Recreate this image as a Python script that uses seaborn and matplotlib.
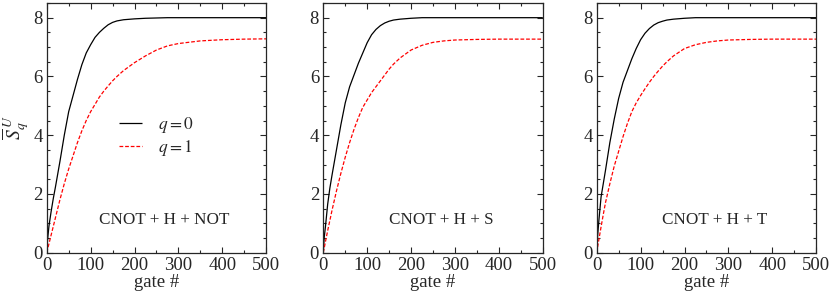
import numpy as np
import pandas as pd
import matplotlib
matplotlib.use('Agg')
import matplotlib.pyplot as plt
import seaborn as sns
from matplotlib.ticker import MultipleLocator

# data
gates = [0, 2, 5, 10, 15, 20, 30, 40, 50, 60, 70, 80, 90, 100, 110, 120, 130, 140,
         150, 160, 175, 200, 225, 250, 275, 300, 350, 400, 450, 500]

not_q0 = [0, 0.45, 0.9, 1.4, 1.85, 2.25, 3.1, 4.0, 4.8, 5.35, 5.9, 6.4, 6.8, 7.08, 7.33,
          7.5, 7.64, 7.76, 7.84, 7.89, 7.93, 7.96, 7.98, 7.99, 8.0, 8.0, 8.0, 8.0, 8.0, 8.0]
not_q1 = [0, 0.12, 0.3, 0.6, 0.9, 1.2, 1.8, 2.35, 2.85, 3.3, 3.75, 4.15, 4.5, 4.8,
          5.05, 5.3, 5.5, 5.68, 5.85, 6.0, 6.2, 6.47, 6.7, 6.9, 7.04, 7.12, 7.21, 7.25,
          7.27, 7.28]

s_q0 = [0, 0.5, 0.9, 1.65, 2.2, 2.65, 3.5, 4.35, 5.1, 5.65, 6.05, 6.45, 6.8, 7.15, 7.42,
        7.6, 7.73, 7.82, 7.88, 7.92, 7.95, 7.98, 8.0, 8.0, 8.0, 8.0, 8.0, 8.0, 8.0, 8.0]
s_q1 = [0, 0.15, 0.38, 0.75, 1.1, 1.45, 2.1, 2.7, 3.25, 3.75, 4.2, 4.6, 4.95, 5.2,
        5.45, 5.65, 5.85, 6.05, 6.25, 6.42, 6.63, 6.9, 7.06, 7.16, 7.21, 7.24, 7.26, 7.27,
        7.27, 7.27]

t_q0 = [0, 0.55, 1.1, 1.9, 2.35, 2.8, 3.75, 4.55, 5.25, 5.8, 6.2, 6.6, 6.95, 7.25, 7.47,
        7.63, 7.75, 7.83, 7.88, 7.92, 7.95, 7.98, 8.0, 8.0, 8.0, 8.0, 8.0, 8.0, 8.0, 8.0]
t_q1 = [0, 0.18, 0.45, 0.88, 1.3, 1.7, 2.35, 2.95, 3.45, 3.95, 4.4, 4.8, 5.1, 5.35,
        5.58, 5.8, 6.0, 6.18, 6.35, 6.5, 6.7, 6.95, 7.08, 7.16, 7.21, 7.24, 7.26, 7.27,
        7.27, 7.27]

panel_titles = ['CNOT + H + NOT', 'CNOT + H + S', 'CNOT + H + T']
panel_data = [(not_q0, not_q1), (s_q0, s_q1), (t_q0, t_q1)]
series_labels = [r'$q = 0$', r'$q = 1$']

sns.set_style('ticks')
plt.rcParams['font.family'] = ['Liberation Serif', 'DejaVu Serif']
plt.rcParams['mathtext.fontset'] = 'stix'

fig = plt.figure(figsize=(8.3, 2.94), dpi=100)
lefts = [0.0563, 0.3895, 0.7189]
axes = [fig.add_axes([l, 0.1405, 0.2645, 0.8493]) for l in lefts]

for i, ax in enumerate(axes):
    q0, q1 = panel_data[i]
    df = pd.DataFrame({'gate': gates * 2,
                       'S': q0 + q1,
                       'q': [series_labels[0]] * len(gates) + [series_labels[1]] * len(gates)})
    sns.lineplot(data=df, x='gate', y='S', hue='q', style='q',
                 palette=['black', 'red'], dashes=[(1, 0), (3, 1.5)],
                 linewidth=0.9, ax=ax, legend=(i == 0))
    ax.set_xlim(0, 500)
    ax.set_ylim(0, 8.5)
    ax.xaxis.set_major_locator(MultipleLocator(100))
    ax.xaxis.set_minor_locator(MultipleLocator(50))
    ax.yaxis.set_major_locator(MultipleLocator(2))
    ax.yaxis.set_minor_locator(MultipleLocator(0.5))
    ax.tick_params(which='both', direction='in', top=True, right=True,
                   labelsize=13.5, pad=3, width=0.8)
    ax.tick_params(which='major', length=4)
    ax.tick_params(which='minor', length=2.2)
    for sp in ax.spines.values():
        sp.set_linewidth(0.9)
    ax.set_xlabel('gate #', fontsize=13.5, labelpad=0)
    ax.set_ylabel('')
    ax.text(268, 1.1, panel_titles[i], fontsize=12.3, ha='center', va='center')

axes[0].set_ylabel(r'$\overline{S}_{q}^{\;U}$', fontsize=14)
axes[0].yaxis.set_label_coords(-0.07, 0.5)
leg = axes[0].legend(loc='center left', bbox_to_anchor=(0.26, 0.465), frameon=False,
                     fontsize=12.5, handlelength=1.3, handletextpad=0.9, labelspacing=0.15)

fig.savefig('out.png', dpi=100)
